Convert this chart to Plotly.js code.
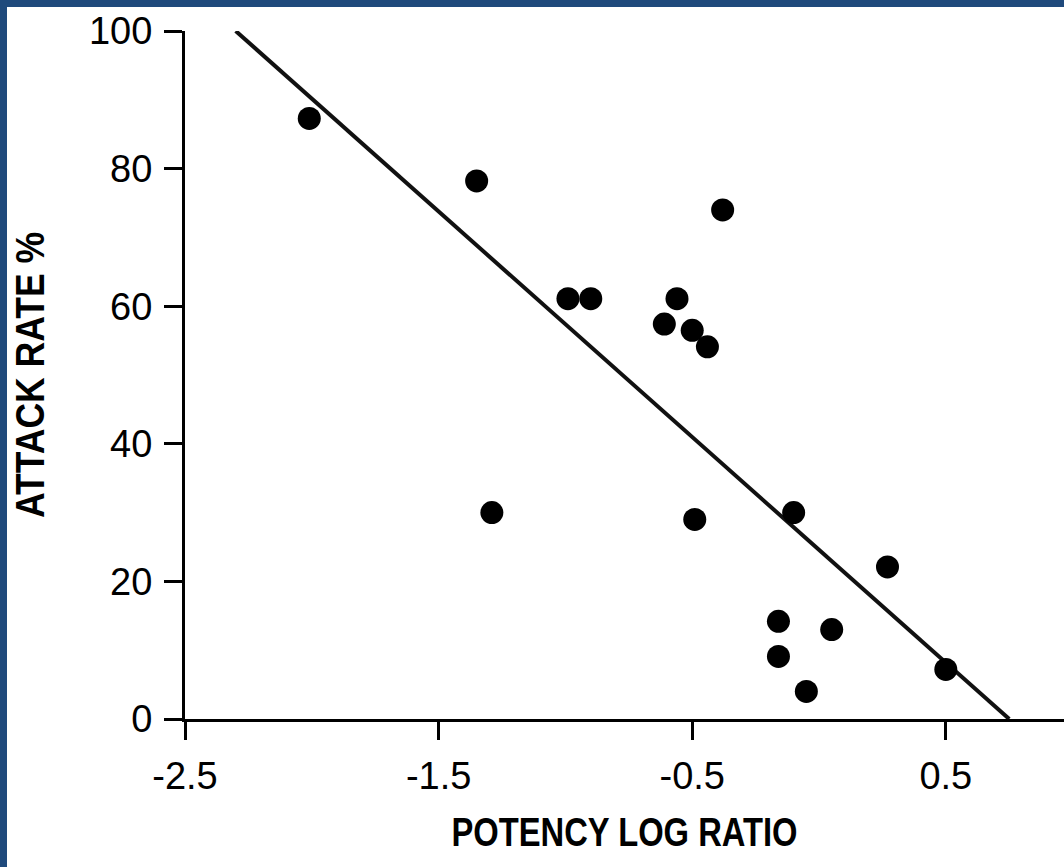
<!DOCTYPE html>
<html>
<head>
<meta charset="utf-8">
<script src="https://cdn.plot.ly/plotly-3.0.1.min.js"></script>
<style>
html, body { margin: 0; padding: 0; background: #1f4a7c; width: 1064px; height: 867px; overflow: hidden; }
#chart { position: absolute; left: 7px; top: 7px; width: 1057px; height: 860px; background: #fff; }
</style>
</head>
<body>
<div id="chart"></div>
<script>
// Observed data points
const potencyLogRatio = [-2.01, -1.35, -1.29, -0.99, -0.90, -0.61, -0.56, -0.50, -0.49, -0.44, -0.38, -0.16, -0.16, -0.10, -0.05, 0.05, 0.27, 0.50];
const attackRate      = [87.3, 78.2, 30.0, 61.1, 61.1, 57.4, 61.1, 56.5, 29.0, 54.1, 74.0, 14.2, 9.1, 30.0, 4.0, 13.0, 22.1, 7.2];
// Fitted regression line end points
const fitX = [-2.30, 0.75];
const fitY = [100, 0];
// Axis ticks
const xTicks = [-2.5, -1.5, -0.5, 0.5];
const xTickLabels = ["-2.5", "-1.5", "-0.5", "0.5"];
const yTicks = [0, 20, 40, 60, 80, 100];
const yTickLabels = ["0", "20", "40", "60", "80", "100"];

const tickFont = { family: "Liberation Sans, Arial, sans-serif", size: 38, color: "#000" };
const titleFont = { family: "Liberation Sans, Arial, sans-serif", size: 41, color: "#000", weight: "bold" };

const traces = [
  {
    x: fitX, y: fitY, type: "scatter", mode: "lines",
    line: { color: "#111", width: 4 }, hoverinfo: "skip", showlegend: false
  },
  {
    x: potencyLogRatio, y: attackRate, type: "scatter", mode: "markers",
    marker: { color: "#000", size: 23 }, showlegend: false
  }
];

const layout = {
  width: 1057, height: 860,
  margin: { l: 178, r: 0, t: 24, b: 148 },
  paper_bgcolor: "#fff", plot_bgcolor: "#fff",
  showlegend: false,
  xaxis: {
    range: [-2.5, 0.966], tickmode: "array", tickvals: xTicks, ticktext: xTickLabels,
    showgrid: false, zeroline: false, showline: true, linecolor: "#000", linewidth: 3,
    ticks: "outside", ticklen: 18, tickwidth: 3, tickcolor: "#000",
    tickfont: tickFont, ticklabelstandoff: 3,
    title: { text: "POTENCY LOG RATIO", font: titleFont, standoff: 22 }
  },
  yaxis: {
    range: [0, 100], tickmode: "array", tickvals: yTicks, ticktext: yTickLabels,
    showgrid: false, zeroline: false, showline: true, linecolor: "#000", linewidth: 3,
    ticks: "outside", ticklen: 18, tickwidth: 3, tickcolor: "#000",
    tickfont: tickFont, ticklabelstandoff: 4,
    title: { text: "ATTACK RATE %", font: titleFont, standoff: 40 }
  }
};

// The original uses a condensed bold face; squeeze the title text horizontally to match
function condenseTitles() {
  const xt = document.querySelector("#chart .g-xtitle text");
  if (xt) { xt.setAttribute("textLength", "346"); xt.setAttribute("lengthAdjust", "spacingAndGlyphs"); }
  const yt = document.querySelector("#chart .g-ytitle text");
  if (yt) { yt.setAttribute("textLength", "286"); yt.setAttribute("lengthAdjust", "spacingAndGlyphs"); }
}

Plotly.newPlot("chart", traces, layout, { displayModeBar: false, staticPlot: true }).then(condenseTitles);
</script>
</body>
</html>
